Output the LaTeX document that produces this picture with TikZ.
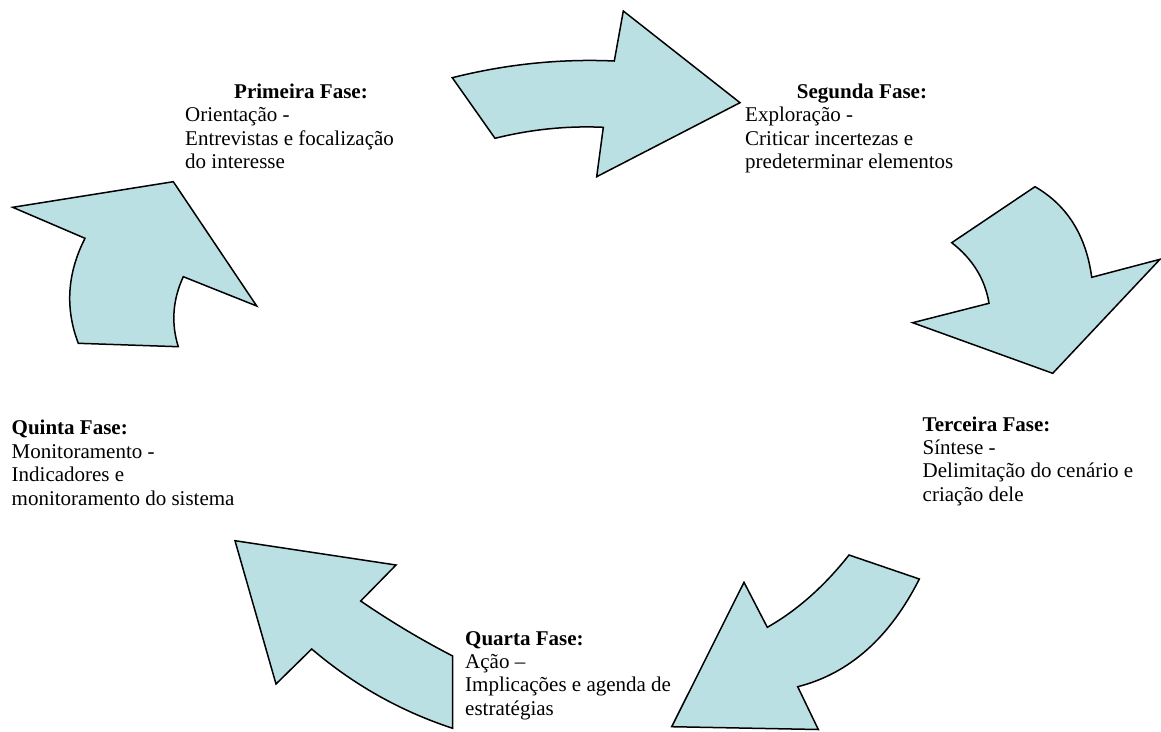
\documentclass[tikz,border=0pt]{standalone}
\usepackage{fontspec}
\setmainfont{Liberation Serif}
\begin{document}
\begin{tikzpicture}[x=1pt,y=-1pt,
  bigarrow/.style={draw=black,fill=arrowfill,line width=1.5pt,line join=miter},
  phasetitle/.style={inner sep=0pt,font=\fontsize{21}{23.5}\selectfont\bfseries},
  phasebody/.style={inner sep=0pt,align=left,font=\fontsize{21}{23.5}\selectfont}]
\definecolor{arrowfill}{RGB}{187,224,227}
\useasboundingbox (0,0) rectangle (1161,731);

% Arrow 1: Primeira -> Segunda
\draw[bigarrow] (452.3,77.7) -- (495,138.3)
  .. controls (531.1,129.3) and (567.2,125.7) .. (603.3,127.3)
  -- (596.7,176.7) -- (740,102.7) -- (623.3,11) -- (614.3,61)
  .. controls (560.3,58.6) and (506.3,64.1) .. cycle;
% Arrow 2: Segunda -> Terceira
\draw[bigarrow] (1035,186.7) -- (951.7,242.7)
  .. controls (972.6,258.9) and (985.1,279.1) .. (989,303.3)
  -- (912.7,322.7) -- (1052.7,373.3) -- (1160,259.3) -- (1091.7,277.3)
  .. controls (1086.1,235.5) and (1067.2,205.3) .. cycle;
% Arrow 3: Terceira -> Quarta
\draw[bigarrow] (849,555) -- (919.3,579)
  .. controls (889.7,637.8) and (849.1,673.7) .. (797.7,686.7)
  -- (818.3,729.5) -- (671.7,726.7) -- (744,582.3) -- (767.3,627.3)
  .. controls (796.9,610.5) and (824.2,586.4) .. cycle;
% Arrow 4: Quarta -> Quinta
\draw[bigarrow] (235,540.7) -- (396,565) -- (360.7,601)
  .. controls (390.4,621.3) and (421,639.7) .. (452.7,656)
  -- (452.7,728.3)
  .. controls (400.5,711.2) and (353.5,684.7) .. (311.7,649)
  -- (276,684) -- cycle;
% Arrow 5: Quinta -> Primeira
\draw[bigarrow] (173.3,181.7) -- (256.7,306) -- (183.3,276.7)
  .. controls (172.6,300) and (171,323.4) .. (178.3,346.7)
  -- (78.3,343.3)
  .. controls (64.9,308.3) and (67.2,273.3) .. (85,238.3)
  -- (12.7,207.3) -- cycle;

% Phase labels (body nodes are placed by the baseline of their last line)
\node[phasetitle,anchor=base] (t1) at (301,98) {Primeira Fase:};
\node[phasebody,anchor=base west] (b1) at (185,168.5) {Orientação -\\Entrevistas e focalização\\do interesse};

\node[phasetitle,anchor=base] (t2) at (862,98) {Segunda Fase:};
\node[phasebody,anchor=base west] (b2) at (745,168.5) {Exploração -\\Criticar incertezas e\\predeterminar elementos};

\node[phasetitle,anchor=base west] (t3) at (922.5,431) {Terceira Fase:};
\node[phasebody,anchor=base west] (b3) at (922.5,501) {Síntese -\\Delimitação do cenário e\\criação dele};

\node[phasetitle,anchor=base west] (t5) at (11.5,434) {Quinta Fase:};
\node[phasebody,anchor=base west] (b5) at (11.5,505) {Monitoramento -\\Indicadores e\\monitoramento do sistema};

\node[phasetitle,anchor=base west] (t4) at (465,645) {Quarta Fase:};
\node[phasebody,anchor=base west] (b4) at (465,715) {Ação –\\Implicações e agenda de\\estratégias};
\end{tikzpicture}
\end{document}
